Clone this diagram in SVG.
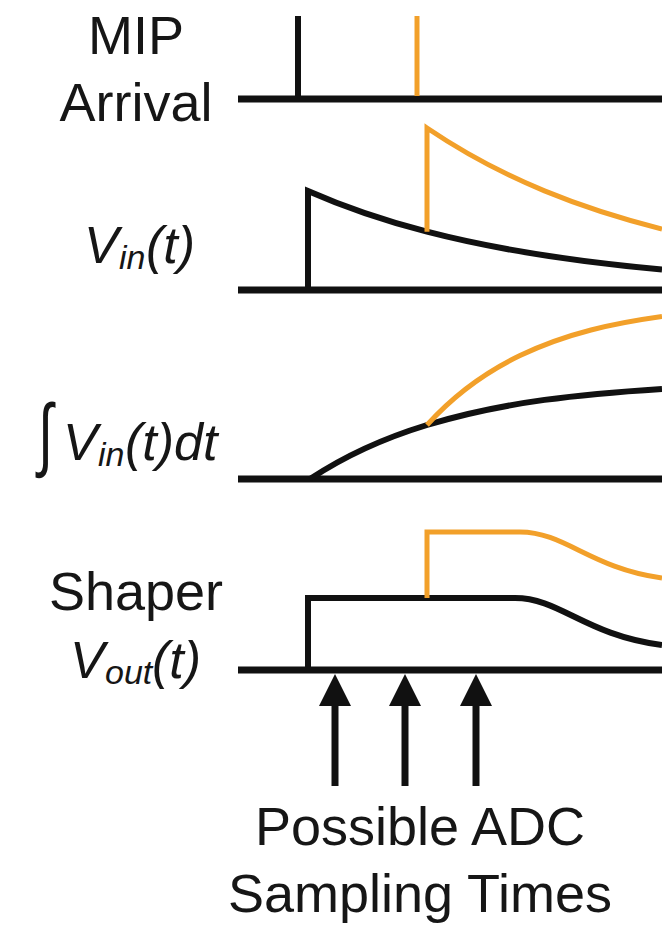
<svg xmlns="http://www.w3.org/2000/svg" width="662" height="928" viewBox="0 0 662 928">
<defs>
<style>
.lbl{font-family:"Liberation Sans",Arial,sans-serif;font-size:54px;fill:#161616}
.it{font-family:"Liberation Sans",Arial,sans-serif;font-style:italic;fill:#161616}
.axis{stroke:#111;stroke-width:7;fill:none}
.blk{stroke:#111;stroke-width:6;fill:none;stroke-linejoin:miter}
.org{stroke:#F2A02A;stroke-width:5;fill:none;stroke-linejoin:miter}
.arr{stroke:#111;stroke-width:7;fill:none}
</style>
<marker id="ah" markerUnits="userSpaceOnUse" markerWidth="34" markerHeight="34" viewBox="0 0 34 34" refX="1" refY="17" orient="auto">
<path d="M0,1 L32,17 L0,33 z" fill="#111"/>
</marker>
</defs>
<rect width="662" height="928" fill="#fff"/>

<g id="mip">
<text class="lbl" x="136" y="54" text-anchor="middle">MIP</text>
<text class="lbl" x="136" y="121" text-anchor="middle">Arrival</text>
<line class="axis" x1="238" y1="99" x2="662" y2="99"/>
<line class="blk" x1="298" y1="16" x2="298" y2="99"/>
<line class="org" x1="417" y1="16" x2="417" y2="96"/>
</g>

<g id="vin">
<text class="it" y="263"><tspan x="84" font-size="52">V</tspan><tspan x="119" y="269" font-size="34">in</tspan><tspan x="146" y="263" font-size="52">(t)</tspan></text>
<line class="axis" x1="238" y1="290" x2="662" y2="290"/>
<path class="blk" d="M308,290 V191 C347.7,208.5 387.3,221.4 427,231.7 C505.3,252 583.7,262.4 662,269.5"/>
<path class="org" d="M427,231.7 V128 C505.3,180.9 583.7,209.2 662,229.1"/>
</g>

<g id="integral">
<text class="lbl" transform="translate(38,461) scale(1,1.5)" font-size="58">∫</text>
<text class="it" y="460"><tspan x="63" y="460" font-size="52">V</tspan><tspan x="98" y="466" font-size="34">in</tspan><tspan x="125" y="460" font-size="52">(t)dt</tspan></text>
<line class="axis" x1="238" y1="479" x2="662" y2="479"/>
<path class="blk" d="M310,479 C349,453.1 388,436.9 427,425 C505.3,401.2 583.7,393.9 662,388.9"/>
<path class="org" d="M427,425 C458,390.8 489,370.5 520,355.6 C567.3,332.9 614.7,323.1 662,316.5"/>
</g>

<g id="shaper">
<text class="lbl" x="136" y="610" text-anchor="middle">Shaper</text>
<text class="it" y="678"><tspan x="70" font-size="52">V</tspan><tspan x="105" y="684" font-size="34">out</tspan><tspan x="152" y="678" font-size="52">(t)</tspan></text>
<line class="axis" x1="238" y1="670" x2="662" y2="670"/>
<path class="blk" d="M308,670 V598 H515 C560,598 585,635 662,645"/>
<path class="org" d="M427,598 V532 H520 C565,532 590,568 662,578"/>
</g>

<g id="connectors">
<line class="arr" x1="335" y1="786" x2="335" y2="705" marker-end="url(#ah)"/>
<line class="arr" x1="405" y1="786" x2="405" y2="705" marker-end="url(#ah)"/>
<line class="arr" x1="476" y1="786" x2="476" y2="705" marker-end="url(#ah)"/>
</g>

<g id="adc-label">
<text class="lbl" x="420" y="845" text-anchor="middle">Possible ADC</text>
<text class="lbl" x="420" y="912" text-anchor="middle">Sampling Times</text>
</g>
</svg>
